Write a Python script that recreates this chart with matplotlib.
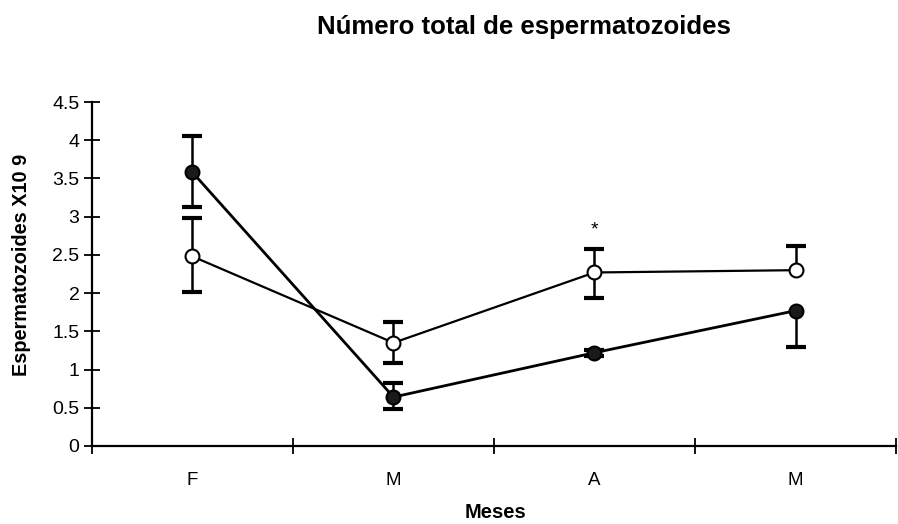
import matplotlib
matplotlib.use("Agg")
import matplotlib.pyplot as plt
import numpy as np

plt.rcParams['font.family'] = ['Liberation Sans', 'DejaVu Sans']

months = ["F", "M", "A", "M"]

# Series with filled markers
filled_mean = [3.58, 0.64, 1.22, 1.77]
filled_err_low = [0.45, 0.16, 0.04, 0.47]
filled_err_high = [0.48, 0.18, 0.04, 0.0]

# Series with open markers
open_mean = [2.48, 1.35, 2.27, 2.30]
open_err_low = [0.47, 0.27, 0.33, 0.0]
open_err_high = [0.50, 0.27, 0.31, 0.32]

# Significance mark
star_month = 2
star_value = 2.82

yticks = [0, 0.5, 1, 1.5, 2, 2.5, 3, 3.5, 4, 4.5]
ytick_labels = ["0", "0.5", "1", "1.5", "2", "2.5", "3", "3.5", "4", "4.5"]

fig = plt.figure(figsize=(8.98, 5.24), dpi=100)
ax = fig.add_axes([0.1024, 0.1489, 0.8954, 0.6564])

x = np.arange(len(months)) + 0.5


def draw_series(mean, low, high, face, lw, z):
    mean = np.asarray(mean)
    low = np.asarray(low)
    high = np.asarray(high)
    # error bars, one side at a time; sides with no error are left out
    for keep, ends in ((low > 0, mean - low), (high > 0, mean + high)):
        ax.vlines(x[keep], mean[keep], ends[keep], color="black", lw=1.8,
                  zorder=z)
        ax.plot(x[keep], ends[keep], linestyle="none", marker="_",
                markersize=14, markeredgewidth=3, color="black", zorder=z)
    ax.plot(x, mean, color="black", lw=lw, zorder=z + 0.5)
    ax.plot(x, mean, linestyle="none", marker="o", markersize=10,
            markerfacecolor=face, markeredgecolor="black",
            markeredgewidth=1.5, zorder=z + 1)


draw_series(filled_mean, filled_err_low, filled_err_high, "#1a1a1a", 2.0, 3)
draw_series(open_mean, open_err_low, open_err_high, "white", 1.6, 5)

ax.text(x[star_month], star_value, "*", ha="center", va="center", fontsize=14)

ax.set_xlim(0, len(months))
ax.set_ylim(0, 4.5)
ax.set_xticks(np.arange(len(months) + 1))
ax.set_xticklabels([])
ax.set_xticks(x, minor=True)
ax.set_xticklabels(months, minor=True, fontsize=13.5)
ax.tick_params(axis="x", which="minor", length=0, pad=19)
ax.tick_params(axis="x", which="major", direction="inout", length=12, width=1.3)
ax.set_yticks(yticks)
ax.set_yticklabels(ytick_labels, fontsize=14)
ax.tick_params(axis="y", direction="inout", length=12, width=1.3, pad=3)

for side in ("top", "right"):
    ax.spines[side].set_visible(False)
for side in ("left", "bottom"):
    ax.spines[side].set_linewidth(1.6)

fig.text(495 / 898, 1 - 512 / 524, "Meses", ha="center", va="center",
         fontsize=14.5, fontweight="bold")
fig.text(22 / 898, 1 - 265 / 524, "Espermatozoides X10 9", ha="center",
         va="center", rotation=90, fontsize=14.3, fontweight="bold")
fig.text(524 / 898, 1 - 27 / 524, "Número total de espermatozoides",
         ha="center", va="center", fontsize=18.5, fontweight="bold")

fig.savefig("out.png", dpi=100)
